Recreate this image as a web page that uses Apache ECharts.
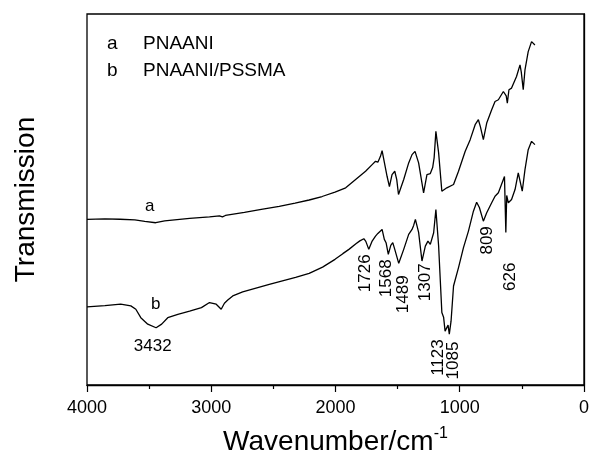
<!DOCTYPE html>
<html>
<head>
<meta charset="utf-8">
<script src="https://cdn.jsdelivr.net/npm/echarts@6/dist/echarts.min.js"></script>
<style>
html,body{margin:0;padding:0;background:#fff;}
#chart{width:592px;height:461px;}
</style>
</head>
<body>
<div id="chart"></div>
<script>
// ---- data (wavenumber in cm^-1, transmission in arbitrary units) ----
const wavenumberA = [4000,3856,3735,3615,3535,3447,3375,3295,3174,3014,2934,2910,2886,2733,2597,2453,2325,2212,2108,2004,1918,1838,1758,1705,1678,1659,1638,1625,1606,1585,1566,1545,1523,1507,1493,1451,1411,1384,1360,1331,1291,1264,1237,1218,1206,1192,1170,1144,1104,1050,1010,956,916,876,862,850,834,810,783,743,716,689,673,649,636,626,617,604,583,543,515,505,489,475,449,422,409,395];
const transmissionA = [166,166.5,166.2,165.5,164,162.7,164.5,165.5,167,168.5,169.5,168.5,170,173,176,179,182.4,185.5,189,193.5,197.7,206,214.3,221,224.3,223.4,229.3,235,222.7,209.3,199,211,214.3,206,191,206,222.7,231,234.3,222.7,192.7,211,212,218,228,254.3,232.7,194.3,197.7,201,214.3,234.3,246,261,262,266,259,246,262.7,276,284.3,286,288,294.3,296,290,282.7,296,297.7,309.3,321,314,296,316,334.3,344.3,346,341];

const wavenumberB = [4000,3856,3729,3647,3607,3567,3511,3444,3399,3350,3269,3174,3079,3014,2960,2920,2894,2867,2854,2827,2747,2533,2321,2212,2104,2004,1941,1892,1833,1804,1772,1756,1732,1705,1678,1659,1643,1625,1607,1593,1575,1555,1539,1523,1491,1451,1411,1384,1371,1357,1331,1304,1277,1256,1237,1210,1192,1170,1157,1144,1130,1118,1104,1094,1084,1070,1050,1010,970,930,890,864,842,810,783,743,716,689,676,649,640,629,622,609,583,555,529,515,497,475,449,422,409,395];
const transmissionB = [78.3,79.5,81,79.3,76,67.5,61,57.4,61,67.5,70.9,74,77.6,82.7,81,76,82,85.3,83.3,89.3,93.3,101,108,112,118.2,126,131.7,136,141.8,144.5,146.7,144,136,144.3,149.3,152,150.5,156,146,142.7,131,140,142.7,136,122,136,151,156,160,166,153,124.3,139.3,144.3,141,152.7,176,139.3,106,72.7,68,54,53,60,51,64,99.3,117.7,137.7,154.3,174.3,183.3,178,164.3,172.7,182.7,189.3,192.7,194.3,206,209,153,190,182.7,186,196,212.7,214,194.3,216,236,244.3,244,241];

// x-axis tick labels
const xTicks = [4000, 3000, 2000, 1000, 0];

// peak annotations (vertical text), anchored at [wavenumber, transmission]
const peakLabels = ['1726','1568','1489','1307','1123','1085','809','626'];
const peakLabelWn = [1763,1587,1451,1279,1170,1054,782,589];
const peakLabelT  = [112,107,91,103,27.5,24.5,145,108.5];

// horizontal annotations
const textLabels = ['a','b','3432'];
const textLabelWn = [3495,3447,3471];
const textLabelT  = [179,81,39];

// legend lines
const legendKeys = ['a','b'];
const legendNames = ['PNAANI','PNAANI/PSSMA'];

const FONT = '"Liberation Sans", Arial, Helvetica, sans-serif';
const zip = (xs, ys) => xs.map((x, i) => [x, ys[i]]);

const chart = echarts.init(document.getElementById('chart'), null, {renderer: 'canvas'});

const graphics = [];
legendKeys.forEach((k, i) => {
  const y = 45.5 + i * 26.5;
  graphics.push({type:'text', left:107, top:y - 11, style:{text:k, font:'19px ' + FONT, fill:'#000'}});
  graphics.push({type:'text', left:143, top:y - 11, style:{text:legendNames[i], font:'19px ' + FONT, fill:'#000'}});
});

const labelStyle = {show: true, position: 'inside', color: '#000', opacity: 1, fontSize: 17, fontFamily: FONT,
                    align: 'center', verticalAlign: 'middle', textBorderWidth: 0};

chart.setOption({
  animation: false,
  backgroundColor: '#fff',
  grid: {left: 87, right: 6, top: 14, bottom: 75, show: true, borderColor: '#000', borderWidth: 1.3, backgroundColor: 'transparent'},
  xAxis: {
    type: 'value', inverse: true, min: 0, max: 4000, interval: 1000,
    axisLine: {show: true, onZero: false, lineStyle: {color: '#000', width: 1.3}},
    axisTick: {show: true, length: 7, inside: false, lineStyle: {color: '#000', width: 1.2}},
    minorTick: {show: true, splitNumber: 2, length: 4, lineStyle: {color: '#000', width: 1.2}},
    splitLine: {show: false},
    axisLabel: {color: '#000', fontSize: 18, fontFamily: FONT, margin: 14,
      formatter: v => (xTicks.indexOf(v) >= 0 ? String(v) : '')},
    name: '{m|Wavenumber/cm}{s|-1}',
    nameLocation: 'middle', nameGap: 41,
    nameTextStyle: {
      color: '#000', fontFamily: FONT,
      rich: {
        m: {fontSize: 28, fontFamily: FONT, color: '#000', verticalAlign: 'bottom', lineHeight: 30},
        s: {fontSize: 16, fontFamily: FONT, color: '#000', verticalAlign: 'top', lineHeight: 30}
      }
    }
  },
  yAxis: {
    type: 'value', min: 0, max: 372,
    axisLine: {show: true, lineStyle: {color: '#000', width: 1.3}},
    axisTick: {show: false}, axisLabel: {show: false}, splitLine: {show: false},
    name: 'Transmission', nameLocation: 'middle', nameGap: 47,
    nameTextStyle: {color: '#000', fontSize: 28, fontFamily: FONT}
  },
  graphic: graphics,
  series: [
    {type: 'line', data: zip(wavenumberA, transmissionA), showSymbol: false, silent: true,
     lineStyle: {color: '#000', width: 1.3}},
    {type: 'line', data: zip(wavenumberB, transmissionB), showSymbol: false, silent: true,
     lineStyle: {color: '#000', width: 1.3}},
    {type: 'scatter', symbolSize: 0, silent: true, itemStyle: {opacity: 1},
     data: peakLabels.map((t, i) => ({value: [peakLabelWn[i], peakLabelT[i]], label: {formatter: t}})),
     label: Object.assign({rotate: 90}, labelStyle)},
    {type: 'scatter', symbolSize: 0, silent: true, itemStyle: {opacity: 1},
     data: textLabels.map((t, i) => ({value: [textLabelWn[i], textLabelT[i]], label: {formatter: t}})),
     label: Object.assign({}, labelStyle)}
  ]
});
</script>
</body>
</html>
